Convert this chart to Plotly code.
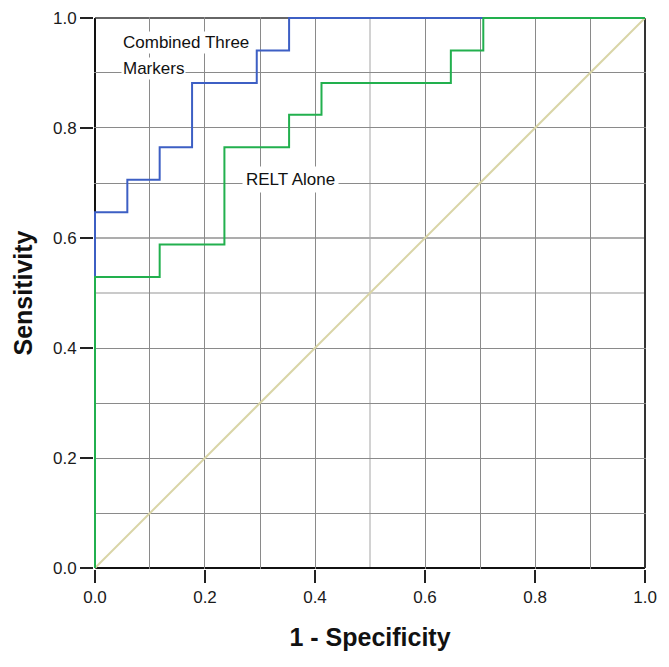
import plotly.graph_objects as go

# Combined three markers ROC (step curve)
comb_x = [0.0, 0.0, 0.0588, 0.0588, 0.1176, 0.1176, 0.1765, 0.1765, 0.2941, 0.2941, 0.3529, 0.3529, 1.0]
comb_y = [0.0, 0.647, 0.647, 0.706, 0.706, 0.765, 0.765, 0.882, 0.882, 0.941, 0.941, 1.0, 1.0]

# RELT alone ROC (step curve)
relt_x = [0.0, 0.0, 0.1176, 0.1176, 0.2353, 0.2353, 0.3529, 0.3529, 0.4118, 0.4118, 0.647, 0.647, 0.706, 0.706, 1.0]
relt_y = [0.0, 0.529, 0.529, 0.588, 0.588, 0.765, 0.765, 0.824, 0.824, 0.882, 0.882, 0.941, 0.941, 1.0, 1.0]

# Reference line
ref_x = [0.0, 1.0]
ref_y = [0.0, 1.0]

tick_vals = [0.0, 0.2, 0.4, 0.6, 0.8, 1.0]
tick_text = ["0.0", "0.2", "0.4", "0.6", "0.8", "1.0"]
x_grid_dark = [0.1, 0.2, 0.3, 0.4, 0.6, 0.7, 0.8, 0.9]
y_grid_dark = [0.1, 0.2, 0.3, 0.4, 0.7, 0.8, 0.9]

FONT = "Liberation Sans, Arial, sans-serif"
PAD = 0.0018  # tiny range padding so edge lines are not clipped

fig = go.Figure()
fig.add_trace(go.Scatter(x=ref_x, y=ref_y, mode="lines",
                         line=dict(color="#d9d5a7", width=2), showlegend=False))
fig.add_trace(go.Scatter(x=comb_x, y=comb_y, mode="lines",
                         line=dict(color="#3d5fc4", width=2), showlegend=False))
fig.add_trace(go.Scatter(x=relt_x, y=relt_y, mode="lines",
                         line=dict(color="#22b04e", width=2), showlegend=False))

# lighter grid lines
fig.add_shape(type="line", x0=0.5, x1=0.5, y0=0, y1=1, xref="x", yref="y",
              line=dict(color="#d2d2d2", width=2), layer="below")
fig.add_shape(type="line", x0=0, x1=1, y0=0.5, y1=0.5, xref="x", yref="y",
              line=dict(color="#cacaca", width=2), layer="below")
fig.add_shape(type="line", x0=0, x1=1, y0=0.6, y1=0.6, xref="x", yref="y",
              line=dict(color="#adadad", width=2), layer="below")

# plot frame (below traces so the curves overlay it)
fig.add_shape(type="line", x0=0, x1=0, y0=0, y1=1, xref="x", yref="y",
              line=dict(color="#111", width=2), layer="below")
fig.add_shape(type="line", x0=0, x1=1, y0=0, y1=0, xref="x", yref="y",
              line=dict(color="#111", width=2), layer="below")
fig.add_shape(type="line", x0=1, x1=1, y0=0, y1=1, xref="x", yref="y",
              line=dict(color="#333", width=2), layer="below")
fig.add_shape(type="line", x0=0, x1=1, y0=1, y1=1, xref="x", yref="y",
              line=dict(color="#333", width=1.5), layer="below")

ann_font = dict(family=FONT, size=17, color="#111")
fig.add_annotation(x=0.047, y=0.955, text="Combined Three", showarrow=False,
                   xanchor="left", yanchor="middle", bgcolor="white", font=ann_font)
fig.add_annotation(x=0.047, y=0.908, text="Markers", showarrow=False,
                   xanchor="left", yanchor="middle", bgcolor="white", font=ann_font)
fig.add_annotation(x=0.268, y=0.706, text="RELT Alone", showarrow=False,
                   xanchor="left", yanchor="middle", bgcolor="white", font=ann_font,
                   borderpad=3)

axis_common = dict(
    range=[-PAD, 1 + PAD], tickmode="array", tickvals=tick_vals, ticktext=tick_text,
    ticks="outside", ticklen=13, tickwidth=2, tickcolor="#222",
    showline=False, automargin=False,
    showgrid=False, zeroline=False,
    tickfont=dict(family=FONT, size=17, color="#1a1a1a"),
)

fig.update_xaxes(**axis_common,
                 minor=dict(tickmode="array", tickvals=x_grid_dark, showgrid=True,
                            gridcolor="#8a8a8a", gridwidth=1, ticks=""),
                 title=dict(text="<b>1 - Specificity</b>", standoff=22,
                            font=dict(family=FONT, size=25, color="#111")))
fig.update_yaxes(**axis_common,
                 minor=dict(tickmode="array", tickvals=y_grid_dark, showgrid=True,
                            gridcolor="#8a8a8a", gridwidth=1, ticks=""),
                 title=dict(text="<b>Sensitivity</b>", standoff=13,
                            font=dict(family=FONT, size=25, color="#111")))

fig.update_layout(
    width=661, height=659,
    margin=dict(l=86, r=23, t=9, b=98),
    paper_bgcolor="white", plot_bgcolor="white",
)

fig.write_html("out.html")
